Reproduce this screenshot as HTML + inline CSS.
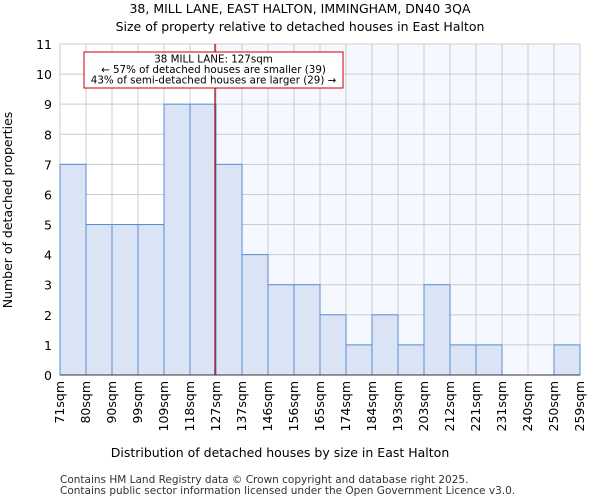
<!DOCTYPE html>
<html><head><meta charset="utf-8"><style>
body{margin:0;background:#fff;font-family:"DejaVu Sans","Liberation Sans",sans-serif;}
</style></head><body>
<svg id="c" width="600" height="500" xmlns="http://www.w3.org/2000/svg" font-family="DejaVu Sans, Liberation Sans, sans-serif">
<text x="300" y="13" text-anchor="middle" font-size="12.5">38, MILL LANE, EAST HALTON, IMMINGHAM, DN40 3QA</text>
<text x="300" y="31" text-anchor="middle" font-size="12.5">Size of property relative to detached houses in East Halton</text>
<g id="plot"></g>
<text x="280" y="457" text-anchor="middle" font-size="12.5">Distribution of detached houses by size in East Halton</text>
<text x="12" y="210" text-anchor="middle" font-size="12.5" transform="rotate(-90 12 210)">Number of detached properties</text>
<text x="60" y="483" font-size="10.5" fill="#333">Contains HM Land Registry data © Crown copyright and database right 2025.</text>
<text x="60" y="494" font-size="10.5" fill="#333">Contains public sector information licensed under the Open Government Licence v3.0.</text>
</svg>
<script>
const labels=["71sqm","80sqm","90sqm","99sqm","109sqm","118sqm","127sqm","137sqm","146sqm","156sqm","165sqm","174sqm","184sqm","193sqm","203sqm","212sqm","221sqm","231sqm","240sqm","250sqm","259sqm"];
const counts=[7,5,5,5,9,9,7,4,3,3,2,1,2,1,3,1,1,0,0,1];
const yTicks=[0,1,2,3,4,5,6,7,8,9,10,11];
const markerBin=6;
const L=60,R=580,T=44,B=375,yMax=11;
const NS="http://www.w3.org/2000/svg";
const g=document.getElementById('plot');
const xs=i=>L+i*(R-L)/counts.length;
const ys=v=>B-v*(B-T)/yMax;
function mk(t,a){const e=document.createElementNS(NS,t);for(const k in a)e.setAttribute(k,a[k]);g.appendChild(e);return e;}
let sh=mk('rect',{x:xs(markerBin),y:T,width:R-xs(markerBin),height:B-T,fill:'#f5f8fe'});


yTicks.forEach(v=>{
 let l=mk('line',{x1:L,x2:R,y1:ys(v),y2:ys(v),stroke:'#ccc','stroke-width':1});
 
 
 let t=mk('text',{x:L-8,y:ys(v)+5,'text-anchor':'end','font-size':12.5});
 t.textContent=v;
 
 
});
labels.forEach((s,i)=>{
 let l=mk('line',{x1:xs(i),x2:xs(i),y1:T,y2:B,stroke:'#ccc','stroke-width':1});
 
 
 let x=xs(i)+4,y=B+6;
 let t=mk('text',{x:x,y:y,'text-anchor':'end','font-size':12.5,transform:`rotate(-90 ${x} ${y})`});
 t.textContent=s;
 
 
});
counts.forEach((c,i)=>{
 if(c<=0)return;
 let r=mk('rect',{x:xs(i),y:ys(c),width:xs(i+1)-xs(i),height:B-ys(c),fill:'#dae4f4',stroke:'#5b8bd6','stroke-width':1});
 
 
});
let ml=mk('line',{x1:xs(markerBin)-1,x2:xs(markerBin)-1,y1:T,y2:B,stroke:'#a00','stroke-width':1.2});


let ax=mk('line',{x1:L,x2:R,y1:B,y2:B,stroke:'#333'});


let bx=mk('rect',{x:84,y:52,width:259,height:36,fill:'#fff',stroke:'#c00','stroke-width':1});


["38 MILL LANE: 127sqm","← 57% of detached houses are smaller (39)","43% of semi-detached houses are larger (29) →"].forEach((s,i)=>{
 let t=mk('text',{x:213.5,y:62.5+i*10.5,'text-anchor':'middle','font-size':10.3});
 t.textContent=s;
 
 
});
</script>
</body></html>
